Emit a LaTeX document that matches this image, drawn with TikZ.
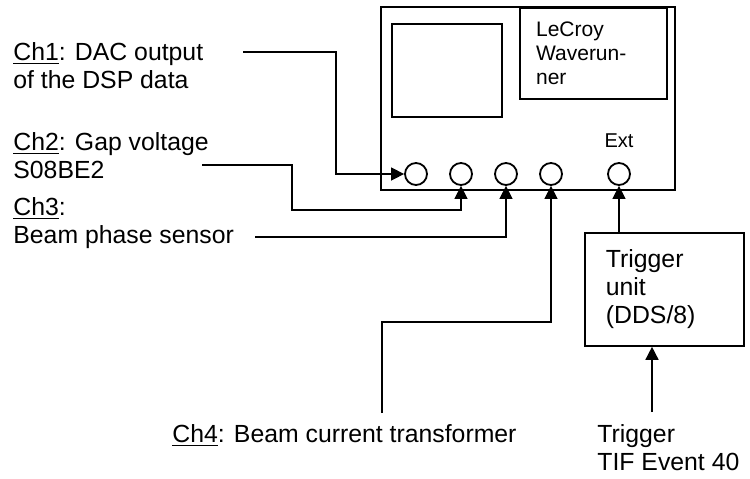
\documentclass[tikz,border=0pt]{standalone}
\usepackage{fontspec}
\setmainfont{Liberation Sans}
\usetikzlibrary{arrows.meta, positioning, calc}
\tikzset{
  panel/.style={rectangle, draw=black, line width=0.9pt, inner sep=0pt},
  jack/.style={circle, draw=black, line width=0.9pt, minimum size=11pt, inner sep=0pt},
  lbl/.style={inner sep=0pt, anchor=base west, align=left, font=\fontsize{12.4}{14}\selectfont},
  wire/.style={line width=0.75pt, black},
  arr/.style={wire, -{Triangle[length=6.5pt, width=6.5pt]}},
}

\begin{document}
\begin{tikzpicture}[x=1pt, y=1pt]
    \useasboundingbox (0,0) rectangle (375,-239);

    % oscilloscope
    \node[panel, minimum width=147pt, minimum height=91.5pt] (scope) at (264,-49.25) {};
    \node[panel, minimum width=55pt, minimum height=46.5pt] (screen) at (223.5,-35.25) {};
    \node[panel, anchor=north east, text width=57.5pt, inner xsep=8pt, minimum height=45.5pt,
      align=left, font=\fontsize{10.5}{12}\selectfont] (lecroy) at (334,-3.5) {LeCroy\\Waverun-\\ner};
    \node[jack] (in1) at (208,-87) {};
    \node[jack] (in2) at (230.5,-87) {};
    \node[jack] (in3) at (253,-87) {};
    \node[jack] (in4) at (275.5,-87) {};
    \node[jack] (ext) at (309.5,-87) {};
    \node[anchor=base, inner sep=0pt, font=\fontsize{10}{12}\selectfont] (extlbl) at (309.5,-73.5) {Ext};

    % trigger unit
    \node[panel, anchor=north west, text width=58.5pt, inner xsep=10.5pt, minimum height=56.5pt,
      align=left, font=\fontsize{12.4}{14}\selectfont] (trig) at (292,-116) {Trigger\\unit\\(DDS/8)};

    % channel labels (base = last line)
    \node[lbl] (ch1) at (6.5,-44) {\underline{Ch1}: DAC output\\of the DSP data};
    \node[lbl] (ch2) at (6.5,-89) {\underline{Ch2}: Gap voltage\\S08BE2};
    \node[lbl] (ch3) at (6.5,-121.5) {\underline{Ch3}:\\Beam phase sensor};
    \node[lbl] (ch4) at (86,-221) {\underline{Ch4}: Beam current transformer};
    \node[lbl] (tif) at (298.5,-235) {Trigger\\TIF Event 40};

    \coordinate (c1) at (121.5,-26);
    \coordinate (c2) at (101,-82.5);
    \coordinate (c3) at (127.5,-118.5);
    \coordinate (c4) at (191,-206.5);
    \coordinate (c5) at (326,-206);

    \draw[arr] (c1) -- ++(46.5,0) |- (in1);
    \draw[arr] (c2) -- ++(45,0) -- ++(0,-22.5) -| (in2);
    \draw[arr] (c3) -| (in3);
    \draw[arr] (c4) -- ++(0,45.5) -| (in4);
    \draw[arr] (ext |- trig.north) -- (ext);
    \draw[arr] (c5) -- (c5 |- trig.south);
  \end{tikzpicture}
\end{document}
